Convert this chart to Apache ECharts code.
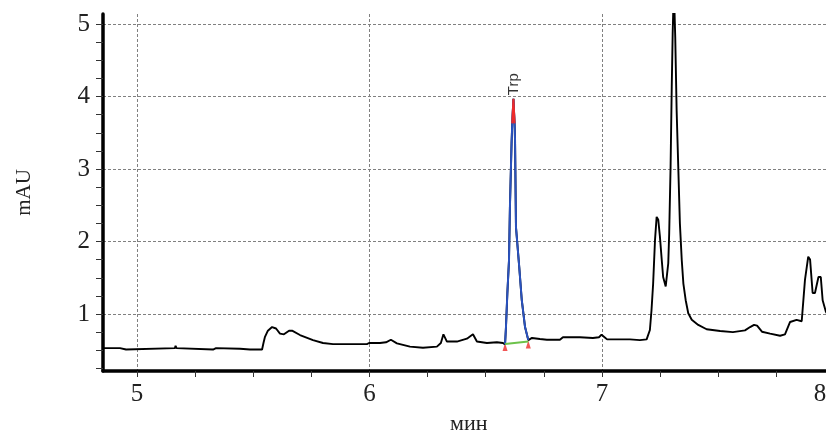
<!DOCTYPE html>
<html lang="ru">
<head>
    <meta charset="UTF-8">
    <title>Chromatogram</title>
    <script src="https://cdn.jsdelivr.net/npm/echarts@6/dist/echarts.min.js"></script>
</head>
<body style="margin:0;background:#fff;">
<div id="main" style="width:826px;height:435px;"></div>

<script type="text/javascript">
    // retention time, min
    var times = [4.854, 4.927, 4.953, 4.961, 5.163, 5.166, 5.170, 5.327, 5.340, 5.443, 5.486, 5.538,
        5.544, 5.550, 5.563, 5.581, 5.598, 5.615, 5.632, 5.654, 5.667, 5.701, 5.757, 5.800, 5.843, 5.895,
        5.989, 5.998, 6.045, 6.071, 6.092, 6.118, 6.174, 6.230, 6.290, 6.307, 6.318, 6.333, 6.376, 6.419,
        6.445, 6.462, 6.505, 6.548, 6.574,
        6.583, 6.587, 6.593, 6.600, 6.604, 6.611, 6.614, 6.619, 6.624, 6.626, 6.630, 6.644, 6.655, 6.669, 6.683,
        6.699, 6.733, 6.763, 6.819, 6.832, 6.905, 6.961, 6.987, 6.998, 7.011, 7.022, 7.120, 7.163, 7.192,
        7.206, 7.213, 7.220, 7.228, 7.235, 7.242, 7.249, 7.257, 7.263, 7.274, 7.285, 7.289, 7.295, 7.300,
        7.304, 7.309, 7.315, 7.321, 7.328, 7.335, 7.343, 7.350, 7.360, 7.371, 7.386, 7.414, 7.450, 7.508,
        7.563, 7.615, 7.637, 7.654, 7.667, 7.688, 7.723, 7.766, 7.787, 7.809, 7.837, 7.859, 7.873, 7.887,
        7.895, 7.906, 7.916, 7.931, 7.941, 7.949, 7.963, 7.980];
    // absorbance, mAU
    var mau = [0.53, 0.53, 0.51, 0.53, 0.53, 0.56, 0.53, 0.51, 0.53, 0.52, 0.51, 0.51,
        0.60, 0.68, 0.77, 0.82, 0.80, 0.73, 0.72, 0.77, 0.77, 0.71, 0.64, 0.60, 0.585, 0.585,
        0.585, 0.60, 0.60, 0.61, 0.645, 0.595, 0.55, 0.535, 0.55, 0.60, 0.72, 0.62, 0.62, 0.66,
        0.72, 0.62, 0.60, 0.61, 0.60,
        0.58, 0.82, 1.29, 1.74, 2.48, 3.35, 3.63, 3.97, 3.63, 3.40, 2.20, 1.65, 1.19, 0.82, 0.64,
        0.67, 0.655, 0.645, 0.645, 0.68, 0.68, 0.67, 0.68, 0.715, 0.68, 0.65, 0.65, 0.64, 0.65,
        0.78, 1.055, 1.42, 2.02, 2.34, 2.30, 2.07, 1.745, 1.51, 1.38, 1.70, 2.11, 3.03, 4.135,
        4.87, 5.50, 4.82, 3.81, 3.03, 2.25, 1.745, 1.42, 1.19, 1.01, 0.92, 0.85, 0.79, 0.765,
        0.75, 0.775, 0.82, 0.85, 0.84, 0.756, 0.73, 0.70, 0.72, 0.89, 0.92, 0.90, 1.47, 1.79,
        1.75, 1.29, 1.29, 1.51, 1.51, 1.19, 1.03, 0.95];

    var peakFrom = 45, peakTo = 59, apexIdx = 52;   // Trp peak indices
    var baseT = [6.583, 6.683];
    var baseV = [0.585, 0.62];

    var xLabels = [5, 6, 7, 8];
    var yLabels = [1, 2, 3, 4, 5];
    var xTicks = [], yTicks = [];
    for (var i = 0; i <= 12; i++) xTicks.push(5 + i * 0.25);
    for (var j = 1; j <= 20; j++) yTicks.push(j * 0.25);

    var line = times.map(function (t, i) { return [t, mau[i]]; });
    var peak = line.slice(peakFrom, peakTo + 1);
    var apex = line.slice(apexIdx - 1, apexIdx + 2);
    var ends = [[baseT[0], baseV[0]], [baseT[1], baseV[1]]];

    var serif = 'Liberation Serif';
    var grid = {left: 103, right: -8.5, top: 14, bottom: 64, containLabel: false, outerBoundsMode: 'none'};
    var xMin = 4.8538, xMax = 8, yMin = 0.214, yMax = 5.138;
    var dash = {show: true, lineStyle: {color: '#808080', type: [3, 2], width: 1}};

    var myChart = echarts.init(document.getElementById('main'));
    var option = {
        backgroundColor: '#fff',
        animation: false,
        grid: grid,
        xAxis: [{
            type: 'value', min: xMin, max: xMax,
            name: 'мин', nameLocation: 'middle', nameGap: 42,
            nameTextStyle: {fontFamily: serif, fontSize: 22, color: '#222'},
            axisLine: {onZero: false, lineStyle: {color: '#000', width: 3.5}},
            axisTick: {show: true, customValues: xTicks, length: 6, lineStyle: {color: '#333', width: 1}},
            axisLabel: {
                customValues: xLabels, margin: 11, fontFamily: serif, fontSize: 25, color: '#222',
                formatter: function (v) { return v === 8 ? '{r|8}' : String(v); },
                rich: {r: {fontFamily: serif, fontSize: 25, color: '#222', padding: [0, 29, 0, 0]}}
            },
            splitLine: {show: false}
        }, {
            type: 'value', min: xMin, max: xMax,
            axisLine: {show: false}, axisLabel: {show: false},
            axisTick: {show: false, customValues: [5, 6, 7]},
            splitLine: dash
        }],
        yAxis: [{
            type: 'value', min: yMin, max: yMax,
            name: 'mAU', nameLocation: 'middle', nameGap: 68, nameRotate: 90,
            nameTextStyle: {fontFamily: serif, fontSize: 21, color: '#222'},
            axisLine: {onZero: false, lineStyle: {color: '#000', width: 3.5}},
            axisTick: {show: true, customValues: yTicks, length: 7, lineStyle: {color: '#333', width: 1}},
            axisLabel: {customValues: yLabels, margin: 13, fontFamily: serif, fontSize: 25, color: '#222'},
            splitLine: {show: false}
        }, {
            type: 'value', min: yMin, max: yMax,
            axisLine: {show: false}, axisLabel: {show: false},
            axisTick: {show: false, customValues: yLabels},
            splitLine: dash
        }],
        series: [{
            type: 'line', data: line, showSymbol: false, silent: true,
            lineStyle: {color: '#000', width: 1.9}
        }, {
            type: 'line', data: peak, showSymbol: false, silent: true,
            lineStyle: {color: '#2a52be', width: 2}
        }, {
            type: 'line', data: apex, showSymbol: false, silent: true,
            lineStyle: {color: '#ee2a2a', width: 2}
        }, {
            type: 'line', data: ends, showSymbol: false, silent: true,
            lineStyle: {color: '#6cc24a', width: 2}
        }, {
            type: 'scatter', data: ends, symbol: 'triangle', symbolSize: [5, 8], symbolOffset: [0, 3],
            silent: true, itemStyle: {color: '#ee2a2a'}
        }, {
            type: 'scatter', data: [line[apexIdx]], symbolSize: 1, silent: true,
            itemStyle: {color: 'rgba(0,0,0,0)'},
            label: {
                show: true, formatter: 'Trp', position: 'top', distance: 3, rotate: 90,
                align: 'left', verticalAlign: 'middle',
                fontFamily: 'Liberation Sans', fontSize: 15, color: '#000'
            }
        }]
    };
    myChart.setOption(option);
</script>
</body>
</html>
